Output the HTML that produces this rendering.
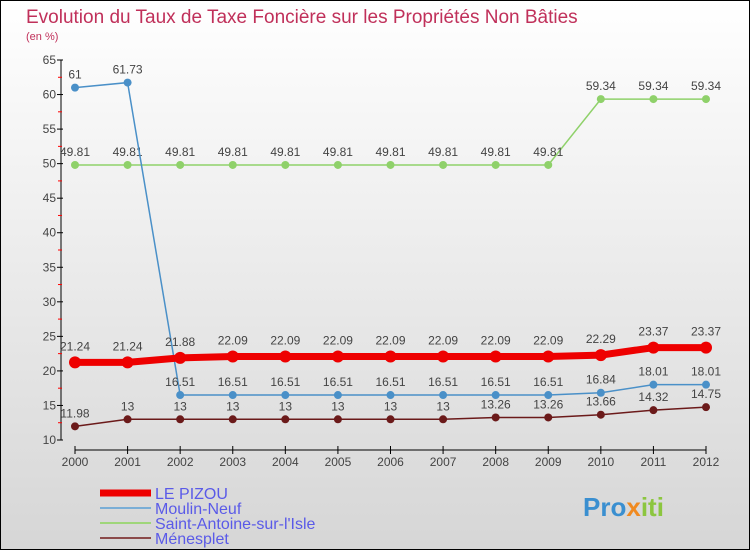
<!DOCTYPE html>
<html><head><meta charset="utf-8"><style>
body{margin:0}
#c{width:750px;height:550px;position:relative;font-family:"Liberation Sans",sans-serif}
</style></head><body>
<div id="c">
<svg id="s" width="750" height="550" xmlns="http://www.w3.org/2000/svg">
<defs><linearGradient id="bg" x1="0" y1="0" x2="0" y2="1"><stop offset="0" stop-color="#ffffff"/><stop offset="1" stop-color="#d6d6d6"/></linearGradient></defs>
<rect x="0.5" y="0.5" width="749" height="549" fill="url(#bg)" stroke="#000"/>
<text x="26" y="23" font-size="19" fill="#c0305a">Evolution du Taux de Taxe Foncière sur les Propriétés Non Bâties</text>
<text x="26" y="40" font-size="11" fill="#c0305a">(en %)</text>
<g id="axes"></g><g id="series"></g><g id="legend"></g>
<text x="583" y="516" font-size="26" font-weight="bold" fill="#3a8fd0">Pro<tspan fill="#f08a20">x</tspan><tspan fill="#8cc63f">iti</tspan></text>
</svg></div>
<script>
const years=[2000,2001,2002,2003,2004,2005,2006,2007,2008,2009,2010,2011,2012];
const yTicks=[10,15,20,25,30,35,40,45,50,55,60,65];
const lePizou=[21.24,21.24,21.88,22.09,22.09,22.09,22.09,22.09,22.09,22.09,22.29,23.37,23.37];
const moulinNeuf=[61,61.73,16.51,16.51,16.51,16.51,16.51,16.51,16.51,16.51,16.84,18.01,18.01];
const saintAntoine=[49.81,49.81,49.81,49.81,49.81,49.81,49.81,49.81,49.81,49.81,59.34,59.34,59.34];
const menesplet=[11.98,13,13,13,13,13,13,13,13.26,13.26,13.66,14.32,14.75];
const NS="http://www.w3.org/2000/svg";
const X=i=>75+i*(706-75)/12;
const Y=v=>440-(v-10)*380/55;
function mk(t,a,p){const e=document.createElementNS(NS,t);for(const k in a)e.setAttribute(k,a[k]);p.appendChild(e);return e;}
const ax=document.getElementById('axes');
let e=mk('line',{x1:61,y1:60,x2:61,y2:440,stroke:'#000'},ax);


e=mk('line',{x1:75,y1:450,x2:706,y2:450,stroke:'#000'},ax);


yTicks.forEach(v=>{
 mk('line',{x1:57,y1:Y(v),x2:63,y2:Y(v),stroke:'#000'},ax);
 if(v<65)mk('line',{x1:58,y1:Y(v+2.5),x2:62,y2:Y(v+2.5),stroke:'#f00'},ax);
 const t=mk('text',{x:56,y:Y(v)+4,'font-size':12,fill:'#444','text-anchor':'end'},ax);t.textContent=v;
 
 
});
years.forEach((y,i)=>{
 mk('line',{x1:X(i),y1:446,x2:X(i),y2:454,stroke:'#000'},ax);
 const t=mk('text',{x:X(i),y:466,'font-size':12,fill:'#444','text-anchor':'middle'},ax);t.textContent=y;
 
 
});
const sg=document.getElementById('series');
function series(d,col,w,r,name,off){
 const g=mk('g',{},sg);
 
 
 mk('polyline',{points:d.map((v,i)=>X(i)+','+Y(v)).join(' '),fill:'none',stroke:col,'stroke-width':w},g);
 d.forEach((v,i)=>{
  const c=mk('circle',{cx:X(i),cy:Y(v),r:r,fill:col},g);
  
  
  const t=mk('text',{x:X(i),y:Y(v)+off,'font-size':12,fill:'#444','text-anchor':'middle'},g);
  t.textContent=String(v);
  
  
 });
}
series(saintAntoine,'#8fd16a',1.5,4,'saint-antoine-series',-9);
series(moulinNeuf,'#4a90c8',1.5,4,'moulin-neuf-series',-9);
series(menesplet,'#6b1a1a',1.5,4,'menesplet-series',-9);
series(lePizou,'#ee0000',7,6,'le-pizou-series',-12);
const lg=document.getElementById('legend');
const items=[['LE PIZOU','#ee0000',7],['Moulin-Neuf','#7aaed6',2],["Saint-Antoine-sur-l'Isle",'#9fd67a',2],['Ménesplet','#8b4a4a',2]];
items.forEach((it,i)=>{
 const g=mk('g',{},lg);
 
 
 const y=493+i*15;
 mk('line',{x1:100,y1:y,x2:151,y2:y,stroke:it[1],'stroke-width':it[2]},g);
 const t=mk('text',{x:155,y:y+6,'font-size':16,fill:'#5a5ae8'},g);t.textContent=it[0];
});
</script></body></html>
